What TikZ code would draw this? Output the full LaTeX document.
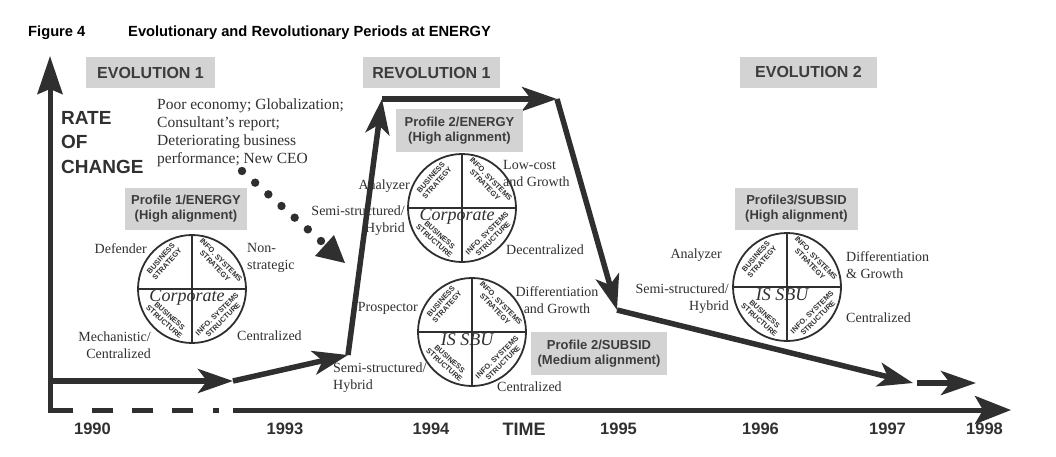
\documentclass[tikz,border=0pt]{standalone}
\usepackage{fontspec}
\setmainfont{Liberation Serif}
\setsansfont{Liberation Sans}
\usetikzlibrary{arrows.meta,calc}
\definecolor{ln}{HTML}{2F2F2F}
\definecolor{txt}{HTML}{303030}
\definecolor{boxfill}{HTML}{D3D3D3}
\definecolor{boxtxt}{HTML}{3C3C3C}
\newcommand\quadcircle[3]{%
  \node[circ] (#1) at #2 {};
  \draw[ln, line width=1.8pt] (#1.north) -- (#1.south) (#1.west) -- (#1.east);
  \node[qtext, rotate=48] (#1bs) at ($(#1)+(-28,-28)$) {BUSINESS\\STRATEGY};
  \node[qtext, rotate=-46] (#1is) at ($(#1)+(26,-26)$) {INFO. SYSTEMS\\STRATEGY};
  \node[qtext, rotate=-42] (#1bt) at ($(#1)+(-25,30)$) {BUSINESS\\STRUCTURE};
  \node[qtext, rotate=45] (#1it) at ($(#1)+(28,28)$) {INFO. SYSTEMS\\STRUCTURE};
  \node[ctext] (#1name) at ($(#1)+(-5,8)$) {#3};
}
\begin{document}
\begin{tikzpicture}[x=1pt,y=-1pt,
  lbl/.style={font=\fontsize{14}{17}\selectfont, text=txt, inner sep=0pt},
  grayhead/.style={fill=boxfill, text=boxtxt, font=\sffamily\bfseries\fontsize{16}{19}\selectfont, inner sep=0pt, minimum height=31pt},
  profbox/.style={fill=boxfill, text=boxtxt, font=\sffamily\bfseries\fontsize{13}{15}\selectfont, inner sep=0pt, align=center, minimum height=42pt},
  qtext/.style={font=\sffamily\bfseries\fontsize{7.4}{8.2}\selectfont, text=txt, align=center, inner sep=0pt},
  ctext/.style={font=\itshape\fontsize{18}{20}\selectfont, text=txt, inner sep=0pt},
  circ/.style={circle, draw=ln, line width=1.8pt, minimum size=108pt, inner sep=0pt},
  yearlbl/.style={font=\sffamily\bfseries\fontsize{16.5}{19}\selectfont, text=txt, inner sep=0pt},
  titlefont/.style={font=\sffamily\bfseries\fontsize{14.7}{17}\selectfont, inner sep=0pt, anchor=west},
  proc/.style={draw=ln, line width=5.5pt, -{Stealth[length=35pt,width=24pt,inset=9pt]}},
  axisline/.style={draw=ln, line width=5pt},
]
\fill[white] (0,0) rectangle (1056,456);
\useasboundingbox (0,0) rectangle (1056,456);

% title
\node[titlefont] (fig) at (28,33) {Figure 4};
\node[titlefont] (title) at (128,33) {Evolutionary and Revolutionary Periods at ENERGY};

% period headers
\node[grayhead, minimum width=129pt] (evo1) at (150.5,72.5) {EVOLUTION 1};
\node[grayhead, minimum width=137pt] (rev1) at (431.5,72.5) {REVOLUTION 1};
\node[grayhead, minimum width=137pt] (evo2) at (808.5,72) {EVOLUTION 2};

% axes
\coordinate (ybot) at (50,412.5);
\coordinate (ytip) at (50,56);
\coordinate (xstart) at (233,410);
\coordinate (xtip) at (1011,410);
\draw[axisline, -{Stealth[length=38pt,width=25pt,inset=5pt]}] (ybot) -- (ytip);
\draw[axisline] (48,410) -- (73,410) (92,410) -- (113,410) (132,410) -- (153,410)
  (172,410) -- (193,410) (213,410) -- (219,410);
\draw[axisline, -{Stealth[length=36pt,width=28pt,inset=8pt]}] (xstart) -- (xtip);

% axis labels
\node[anchor=west, align=left, font=\sffamily\bfseries\fontsize{19}{24.5}\selectfont, text=txt, inner sep=0pt] (rate) at (61,142.5) {RATE\\OF\\CHANGE};
\node[yearlbl] (y1990) at (92.5,429) {1990};
\node[yearlbl] (y1993) at (285,429) {1993};
\node[yearlbl] (y1994) at (431,429) {1994};
\node[font=\sffamily\bfseries\fontsize{18}{20}\selectfont, text=txt, inner sep=0pt] (time) at (524,429) {TIME};
\node[yearlbl] (y1995) at (618.5,429) {1995};
\node[yearlbl] (y1996) at (760.5,429) {1996};
\node[yearlbl] (y1997) at (887.5,429) {1997};
\node[yearlbl] (y1998) at (984.5,429) {1998};

% triggers
\node[anchor=west, align=left, font=\fontsize{15.5}{18.1}\selectfont, text=txt, inner sep=0pt] (trig) at (157,132.5)
  {Poor economy; Globalization;\\Consultant’s report;\\Deteriorating business\\performance; New CEO};
\coordinate (d0) at (242,171);
\coordinate (d1) at (321,241);
\coordinate (dtip) at (345,263);
\foreach \t in {0,...,6} \fill[ln] ($(d0)!\t/6!(d1)$) circle (4.2);
\fill[ln] (dtip) -- (315,256) -- (334,235) -- cycle;

% process path
\coordinate (p0) at (48,381);
\coordinate (p1) at (233,381);
\coordinate (p2) at (348,355);
\coordinate (p3) at (382,99);
\coordinate (p4) at (557,99);
\coordinate (p5) at (617,310);
\coordinate (p6) at (913,383);
\coordinate (p7) at (917,383);
\coordinate (p8) at (976,383);
\draw[proc] (p0) -- (p1);
\draw[proc] (p1) -- (p2);
\draw[proc] (p2) -- (p3);
\draw[proc] (p3) -- (p4);
\draw[proc] (p4) -- (p5);
\draw[proc] (p5) -- (p6);
\draw[proc] (p7) -- (p8);

% profile boxes
\node[profbox, minimum width=122pt] (prof1) at (186,209) {Profile 1/ENERGY\\(High alignment)};
\node[profbox, minimum width=127pt, minimum height=43pt] (prof2e) at (459.5,130.5) {Profile 2/ENERGY\\(High alignment)};
\node[profbox, minimum width=136pt, minimum height=43pt] (prof2s) at (599,353.5) {Profile 2/SUBSID\\(Medium alignment)};
\node[profbox, minimum width=123pt] (prof3) at (796.5,209) {Profile3/SUBSID\\(High alignment)};

% circles
\quadcircle{c1}{(192,289)}{Corporate}
\quadcircle{c2}{(462,208)}{Corporate}
\quadcircle{c3}{(472,332)}{IS SBU}
\quadcircle{c4}{(787,287)}{IS SBU}

% labels circle 1
\node[lbl, anchor=east] (def1) at (147,249) {Defender};
\node[lbl, anchor=west, align=left] (non1) at (247,257.5) {Non-\\strategic};
\node[lbl, anchor=east, align=right] (mech1) at (151,345) {Mechanistic/\\Centralized};
\node[lbl, anchor=west] (cen1) at (237,336) {Centralized};

% labels circle 2
\node[lbl, anchor=east] (ana2) at (410,186) {Analyzer};
\node[lbl, anchor=east, align=right] (semi2) at (405,221) {Semi-structured/\\Hybrid};
\node[lbl, anchor=west, align=left] (low2) at (503,173.5) {Low-cost\\and Growth};
\node[lbl, anchor=west] (dec2) at (506,250) {Decentralized};

% labels circle 3
\node[lbl, anchor=east] (pro3) at (418,308) {Prospector};
\node[lbl, align=center] (dif3) at (557,300.5) {Differentiation\\and Growth};
\node[lbl, anchor=west, align=left] (semi3) at (333,378) {Semi-structured/\\Hybrid};
\node[lbl, anchor=west] (cen3) at (497,387) {Centralized};

% labels circle 4
\node[lbl, anchor=east] (ana4) at (722,255) {Analyzer};
\node[lbl, anchor=east, align=right] (semi4) at (729,298.5) {Semi-structured/\\Hybrid};
\node[lbl, anchor=west, align=left] (dif4) at (846,265.5) {Differentiation\\\& Growth};
\node[lbl, anchor=west] (cen4) at (846,318) {Centralized};
\end{tikzpicture}
\end{document}
